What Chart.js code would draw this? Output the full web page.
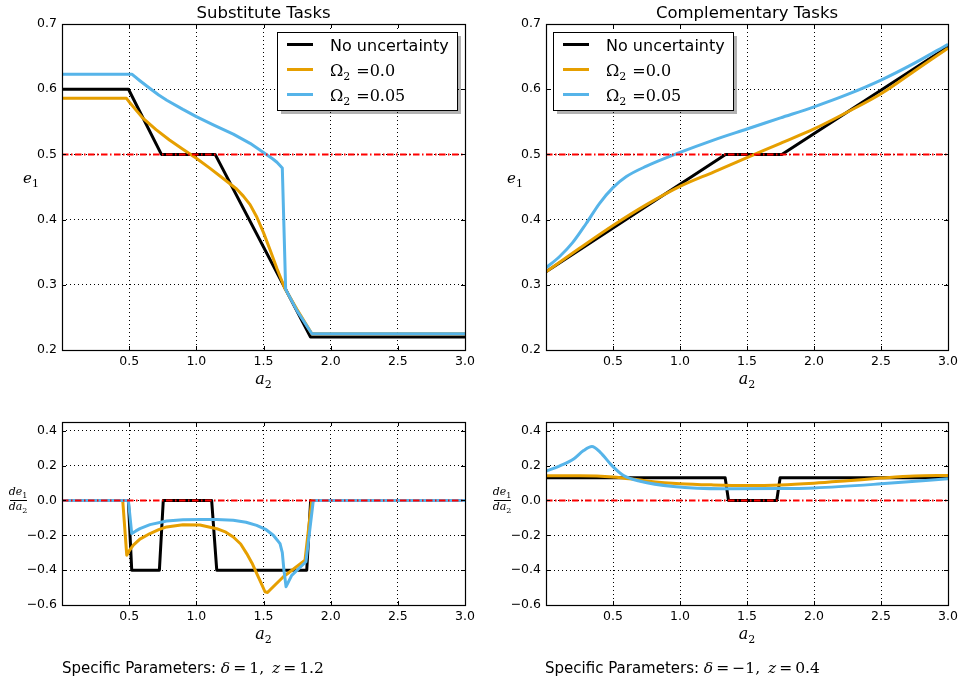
<!DOCTYPE html>
<html>
<head>
<meta charset="utf-8">
<script src="https://cdn.jsdelivr.net/npm/chart.js@4.4.0/dist/chart.umd.min.js"></script>
<style>
  body { margin:0; background:#fff; }
  #wrap { position:relative; width:963px; height:685px; overflow:hidden; }
  canvas { position:absolute; }
  .note { position:absolute; font-family:"DejaVu Sans"; font-size:15px; color:#000; white-space:pre; line-height:18px; }
  .m { font-family:"DejaVu Serif"; font-size:15.5px; }
  .m i { font-style:italic; }
</style>
</head>
<body>
<div id="wrap">
  <canvas id="c1" width="480" height="400" style="left:0;top:0"></canvas>
  <canvas id="c2" width="483" height="400" style="left:480px;top:0"></canvas>
  <canvas id="c3" width="480" height="285" style="left:0;top:400px"></canvas>
  <canvas id="c4" width="483" height="285" style="left:480px;top:400px"></canvas>
  <div class="note" style="left:62px;top:659px">Specific Parameters: <span class="m"><i>δ</i>&#8201;=&#8201;1,&#8194;<i>z</i>&#8201;=&#8201;1.2</span></div>
  <div class="note" style="left:545px;top:659px">Specific Parameters: <span class="m"><i>δ</i>&#8201;=&#8201;−1,&#8194;<i>z</i>&#8201;=&#8201;0.4</span></div>
</div>

<script>

// ---- data ----
const xTicks = [0.5, 1.0, 1.5, 2.0, 2.5, 3.0];
const topYTicks = [0.2, 0.3, 0.4, 0.5, 0.6, 0.7];
const botYTicks = [-0.6, -0.4, -0.2, 0.0, 0.2, 0.4];
const seriesNames = ["No uncertainty", "0.0", "0.05"];   // last two are Omega_2 values

// Substitute tasks, e1
const subBlackX  = [0, 0.495, 0.74, 1.14, 1.85, 3.0];
const subBlackY  = [0.6, 0.6, 0.5, 0.5, 0.22, 0.22];
const subOrangeX = [0, 0.48, 0.51, 0.6, 0.7, 0.8, 0.9, 1.0, 1.1, 1.2, 1.3, 1.35, 1.4, 1.45, 1.5, 1.55, 1.6, 1.66, 1.75, 1.86, 3.0];
const subOrangeY = [0.586, 0.586, 0.578, 0.556, 0.538, 0.522, 0.508, 0.494, 0.479, 0.463, 0.447, 0.436, 0.423, 0.404, 0.38, 0.353, 0.325, 0.294, 0.262, 0.225, 0.225];
const subBlueX   = [0, 0.52, 0.58, 0.655, 0.72, 0.78, 0.9, 1.0, 1.13, 1.275, 1.4, 1.5, 1.57, 1.6, 1.64, 1.652, 1.665, 1.75, 1.86, 3.0];
const subBlueY   = [0.623, 0.623, 0.613, 0.601, 0.591, 0.583, 0.569, 0.558, 0.545, 0.531, 0.517, 0.503, 0.493, 0.488, 0.479, 0.39, 0.293, 0.26, 0.225, 0.225];

// Complementary tasks, e1
const compBlackX  = [0, 1.34, 1.76, 3.0];
const compBlackY  = [0.32, 0.5, 0.5, 0.665];
const compOrangeX = [0, 0.25, 0.5, 0.75, 1.0, 1.25, 1.5, 1.75, 2.0, 2.25, 2.5, 2.75, 3.0];
const compOrangeY = [0.32, 0.356, 0.391, 0.423, 0.451, 0.473, 0.495, 0.517, 0.539, 0.565, 0.593, 0.628, 0.663];
const compBlueX   = [0, 0.1, 0.2, 0.3, 0.4, 0.5, 0.6, 0.75, 1.0, 1.25, 1.5, 1.75, 2.0, 2.25, 2.5, 2.75, 3.0];
const compBlueY   = [0.326, 0.343, 0.365, 0.394, 0.425, 0.449, 0.466, 0.482, 0.503, 0.522, 0.539, 0.556, 0.573, 0.592, 0.614, 0.64, 0.669];

// Substitute tasks, de1/da2
const dSubBlackX  = [0, 0.494, 0.519, 0.725, 0.754, 1.114, 1.152, 1.822, 1.851, 3.0];
const dSubBlackY  = [0, 0, -0.4, -0.4, 0, 0, -0.4, -0.4, 0, 0];
const dSubOrangeX = [0, 0.452, 0.482, 0.5, 0.531, 0.58, 0.655, 0.72, 0.779, 0.9, 1.027, 1.152, 1.22, 1.275, 1.33, 1.375, 1.415, 1.449, 1.48, 1.511, 1.53, 1.548, 1.648, 1.809, 1.859, 3.0];
const dSubOrangeY = [0, 0, -0.314, -0.29, -0.257, -0.222, -0.19, -0.168, -0.152, -0.139, -0.141, -0.162, -0.182, -0.21, -0.25, -0.305, -0.36, -0.419, -0.47, -0.524, -0.528, -0.514, -0.438, -0.343, 0, 0];
const dSubBlueX   = [0, 0.494, 0.519, 0.55, 0.58, 0.655, 0.779, 0.9, 1.027, 1.15, 1.275, 1.37, 1.449, 1.52, 1.573, 1.623, 1.64, 1.652, 1.668, 1.71, 1.816, 1.871, 3.0];
const dSubBlueY   = [0, 0, -0.19, -0.175, -0.162, -0.139, -0.118, -0.111, -0.109, -0.110, -0.114, -0.125, -0.143, -0.168, -0.2, -0.248, -0.3, -0.4, -0.495, -0.43, -0.352, 0, 0];

// Complementary tasks, de1/da2
const dCompBlackX  = [0, 1.337, 1.362, 1.722, 1.747, 3.0];
const dCompBlackY  = [0.13, 0.13, 0, 0, 0.13, 0.13];
const dCompOrangeX = [0, 0.25, 0.5, 0.75, 1.0, 1.25, 1.5, 1.75, 2.0, 2.25, 2.5, 2.75, 3.0];
const dCompOrangeY = [0.142, 0.142, 0.135, 0.112, 0.096, 0.089, 0.086, 0.089, 0.099, 0.113, 0.128, 0.14, 0.143];
const dCompBlueX   = [0, 0.107, 0.206, 0.28, 0.343, 0.405, 0.492, 0.579, 0.703, 0.951, 1.324, 1.75, 2.0, 2.5, 3.0];
const dCompBlueY   = [0.168, 0.2, 0.238, 0.286, 0.309, 0.276, 0.2, 0.143, 0.11, 0.08, 0.067, 0.068, 0.072, 0.095, 0.124];

// ---- drawing ----
const BLACK = "#000000", ORANGE = "#E69F00", BLUE = "#56B4E9";

Chart.defaults.font.family = "DejaVu Sans";
Chart.defaults.font.size = 12.5;
Chart.defaults.color = "#000";

function pts(xs, ys){
  return xs.map((x, i) => ({x: x, y: ys[i]}));
}

function fmt(v){
  return (v < 0 ? "\u2212" : "") + Math.abs(v).toFixed(1);
}

function line(ctx, x1, y1, x2, y2){
  ctx.beginPath(); ctx.moveTo(x1, y1); ctx.lineTo(x2, y2); ctx.stroke();
}

// italic letter(s) with an upright subscript, centred on cx, baseline y
function subText(ctx, cx, y, base, sub, size){
  const f1 = "italic " + size + "px 'DejaVu Serif'";
  const f2 = Math.round(size * 0.7) + "px 'DejaVu Serif'";
  ctx.font = f1; const w1 = ctx.measureText(base).width;
  ctx.font = f2; const w2 = ctx.measureText(sub).width;
  const x = cx - (w1 + w2) / 2;
  ctx.textAlign = "left"; ctx.textBaseline = "alphabetic";
  ctx.font = f1; ctx.fillText(base, x, y);
  ctx.font = f2; ctx.fillText(sub, x + w1, y + size * 0.28);
}

const decor = {
  id: "decor",
  afterDraw(chart, args, o){
    const ctx = chart.ctx, ca = chart.chartArea;
    const xs = chart.scales.x, ys = chart.scales.y;
    ctx.save();
    ctx.setLineDash([]);
    ctx.strokeStyle = "#000";
    ctx.fillStyle = "#000";
    ctx.lineWidth = 1;

    // inward ticks on all sides
    xs.ticks.forEach(t => {
      const p = Math.round(xs.getPixelForValue(t.value)) + 0.5;
      line(ctx, p, ca.bottom, p, ca.bottom - 4);
      line(ctx, p, ca.top, p, ca.top + 4);
    });
    ys.ticks.forEach(t => {
      const p = Math.round(ys.getPixelForValue(t.value)) + 0.5;
      line(ctx, ca.left, p, ca.left + 4, p);
      line(ctx, ca.right, p, ca.right - 4, p);
    });

    // frame
    ctx.lineWidth = 1.2;
    ctx.strokeRect(Math.round(ca.left) + 0.5, Math.round(ca.top) + 0.5,
                   Math.round(ca.right - ca.left), Math.round(ca.bottom - ca.top));

    // title
    if (o.title){
      ctx.font = "16.5px 'DejaVu Sans'";
      ctx.textAlign = "center"; ctx.textBaseline = "alphabetic";
      ctx.fillText(o.title, (ca.left + ca.right) / 2, 18);
    }

    // x label
    subText(ctx, (ca.left + ca.right) / 2, ca.bottom + 34, "a", "2", 16);

    // y label
    if (o.ylabel === "e"){
      subText(ctx, ca.left - 31, 183, "e", "1", 15);
    } else {
      const cx = ca.left - 44, cy = Math.round(ys.getPixelForValue(0));
      subText(ctx, cx, cy - 5, "de", "1", 11);
      ctx.lineWidth = 1;
      line(ctx, cx - 8, cy + 0.5, cx + 9, cy + 0.5);
      subText(ctx, cx, cy + 10, "da", "2", 11);
    }

    // legend
    if (o.legend){
      const lg = o.legend;
      ctx.fillStyle = "rgba(0,0,0,0.3)";
      ctx.fillRect(lg.x + 4, lg.y + 4, lg.w, lg.h);
      ctx.fillStyle = "#fff";
      ctx.fillRect(lg.x, lg.y, lg.w, lg.h);
      ctx.strokeStyle = "#000"; ctx.lineWidth = 1;
      ctx.strokeRect(lg.x + 0.5, lg.y + 0.5, lg.w, lg.h);
      const cols = [BLACK, ORANGE, BLUE];
      seriesNames.forEach((name, i) => {
        const yy = lg.y + 12.5 + i * 25;
        ctx.strokeStyle = cols[i]; ctx.lineWidth = 3;
        line(ctx, lg.x + 10, yy, lg.x + 36, yy);
        ctx.fillStyle = "#000";
        ctx.textAlign = "left"; ctx.textBaseline = "alphabetic";
        const tx = lg.x + 53;
        if (i === 0){
          ctx.font = "16px 'DejaVu Sans'";
          ctx.fillText(name, tx, yy + 6);
        } else {
          ctx.font = "16px 'DejaVu Serif'";
          ctx.fillText("\u03A9", tx, yy + 6);
          const w = ctx.measureText("\u03A9").width;
          ctx.font = "11px 'DejaVu Serif'";
          ctx.fillText("2", tx + w, yy + 10);
          ctx.font = "16px 'DejaVu Serif'";
          ctx.fillText("=" + name, tx + w + 13, yy + 6);
        }
      });
    }
    ctx.restore();
  }
};

function makeChart(id, opt){
  const base = {borderWidth: 3, pointRadius: 0, fill: false, borderJoinStyle: "round", borderCapStyle: "butt"};
  const curve = opt.smooth ? {cubicInterpolationMode: "monotone"} : {tension: 0};
  const datasets = [
    Object.assign({}, base, {data: pts([0, 3], [opt.ref, opt.ref]), borderColor: "#ff0000", borderWidth: 2, borderDash: [6.5, 2.5, 1.5, 2.5]}),
    Object.assign({}, base, curve, {data: pts(opt.blue[0], opt.blue[1]), borderColor: BLUE}),
    Object.assign({}, base, curve, {data: pts(opt.orange[0], opt.orange[1]), borderColor: ORANGE}),
    Object.assign({}, base, {data: pts(opt.black[0], opt.black[1]), borderColor: BLACK, tension: 0})
  ];

  return new Chart(document.getElementById(id), {
    type: "line",
    data: {datasets: datasets},
    options: {
      responsive: false,
      animation: false,
      layout: {padding: opt.pad},
      plugins: {
        legend: {display: false},
        tooltip: {enabled: false},
        decor: {title: opt.title, ylabel: opt.ylabel, legend: opt.legend}
      },
      scales: {
        x: {
          type: "linear", min: 0, max: 3,
          afterBuildTicks: s => { s.ticks = xTicks.map(v => ({value: v})); },
          afterFit: s => { s.height = 30; },
          ticks: {callback: v => fmt(v), padding: 4, autoSkip: false, maxRotation: 0},
          grid: {color: "#000", lineWidth: 1, drawTicks: false},
          border: {display: false, dash: [1, 3]}
        },
        y: {
          type: "linear", min: opt.ymin, max: opt.ymax,
          afterBuildTicks: s => { s.ticks = opt.yticks.map(v => ({value: v})); },
          afterFit: s => { s.width = opt.yw; },
          ticks: {callback: v => fmt(v), padding: 5, autoSkip: false},
          grid: {color: "#000", lineWidth: 1, drawTicks: false},
          border: {display: false, dash: [1, 3]}
        }
      }
    },
    plugins: [decor]
  });
}

makeChart("c1", {
  title: "Substitute Tasks", ylabel: "e", ref: 0.5, smooth: false,
  ymin: 0.2, ymax: 0.7, yticks: topYTicks, yw: 62,
  pad: {top: 24, right: 15, bottom: 20, left: 0},
  legend: {x: 277, y: 32, w: 180, h: 78},
  black: [subBlackX, subBlackY], orange: [subOrangeX, subOrangeY], blue: [subBlueX, subBlueY]
});

makeChart("c2", {
  title: "Complementary Tasks", ylabel: "e", ref: 0.5, smooth: true,
  ymin: 0.2, ymax: 0.7, yticks: topYTicks, yw: 66,
  pad: {top: 24, right: 15, bottom: 20, left: 0},
  legend: {x: 73, y: 32, w: 180, h: 78},
  black: [compBlackX, compBlackY], orange: [compOrangeX, compOrangeY], blue: [compBlueX, compBlueY]
});

makeChart("c3", {
  ylabel: "frac", ref: 0, smooth: false,
  ymin: -0.6, ymax: 0.45, yticks: botYTicks, yw: 62,
  pad: {top: 22, right: 15, bottom: 50, left: 0},
  black: [dSubBlackX, dSubBlackY], orange: [dSubOrangeX, dSubOrangeY], blue: [dSubBlueX, dSubBlueY]
});

makeChart("c4", {
  ylabel: "frac", ref: 0, smooth: true,
  ymin: -0.6, ymax: 0.45, yticks: botYTicks, yw: 66,
  pad: {top: 22, right: 15, bottom: 50, left: 0},
  black: [dCompBlackX, dCompBlackY], orange: [dCompOrangeX, dCompOrangeY], blue: [dCompBlueX, dCompBlueY]
});

</script>
</body>
</html>
